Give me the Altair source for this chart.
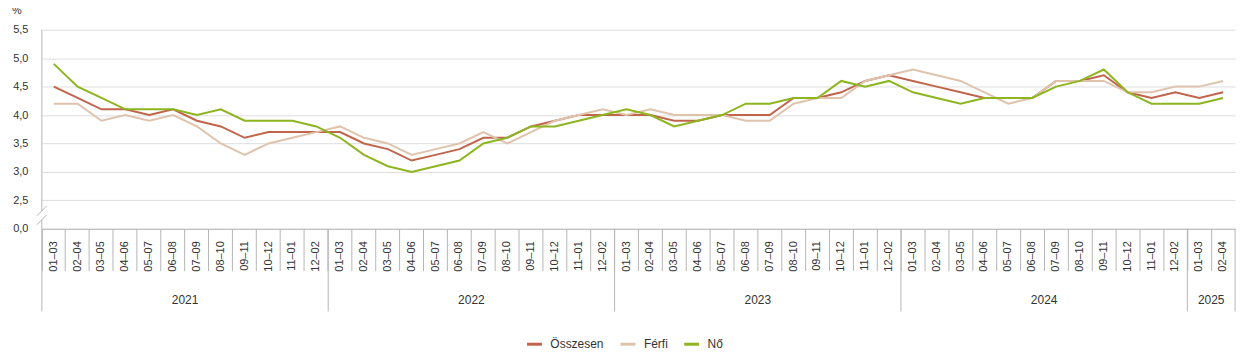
import altair as alt
import pandas as pd

# ---- data -------------------------------------------------------------
periods = ["01–03", "02–04", "03–05", "04–06", "05–07", "06–08",
           "07–09", "08–10", "09–11", "10–12", "11–01", "12–02"]
years = ["2021", "2022", "2023", "2024", "2025"]
year_counts = [12, 12, 12, 12, 2]

osszesen = [4.5, 4.3, 4.1, 4.1, 4.0, 4.1, 3.9, 3.8, 3.6, 3.7, 3.7, 3.7,
            3.7, 3.5, 3.4, 3.2, 3.3, 3.4, 3.6, 3.6, 3.8, 3.9, 4.0, 4.0,
            4.0, 4.0, 3.9, 3.9, 4.0, 4.0, 4.0, 4.3, 4.3, 4.4, 4.6, 4.7,
            4.6, 4.5, 4.4, 4.3, 4.3, 4.3, 4.6, 4.6, 4.7, 4.4, 4.3, 4.4,
            4.3, 4.4]
ferfi = [4.2, 4.2, 3.9, 4.0, 3.9, 4.0, 3.8, 3.5, 3.3, 3.5, 3.6, 3.7,
         3.8, 3.6, 3.5, 3.3, 3.4, 3.5, 3.7, 3.5, 3.7, 3.9, 4.0, 4.1,
         4.0, 4.1, 4.0, 4.0, 4.0, 3.9, 3.9, 4.2, 4.3, 4.3, 4.6, 4.7,
         4.8, 4.7, 4.6, 4.4, 4.2, 4.3, 4.6, 4.6, 4.6, 4.4, 4.4, 4.5,
         4.5, 4.6]
no = [4.9, 4.5, 4.3, 4.1, 4.1, 4.1, 4.0, 4.1, 3.9, 3.9, 3.9, 3.8,
      3.6, 3.3, 3.1, 3.0, 3.1, 3.2, 3.5, 3.6, 3.8, 3.8, 3.9, 4.0,
      4.1, 4.0, 3.8, 3.9, 4.0, 4.2, 4.2, 4.3, 4.3, 4.6, 4.5, 4.6,
      4.4, 4.3, 4.2, 4.3, 4.3, 4.3, 4.5, 4.6, 4.8, 4.4, 4.2, 4.2,
      4.2, 4.3]

series_names = ["Összesen", "Férfi", "Nő"]
series_colors = ["#c0654b", "#dfc3ad", "#8db51f"]
unit_label = "%"

# ---- tables -----------------------------------------------------------
keys = []
for y, n in zip(years, year_counts):
    for p in periods[:n]:
        keys.append(f"{y} {p}")

rows = []
for name, vals in zip(series_names, [osszesen, ferfi, no]):
    for k, v in zip(keys, vals):
        rows.append({"key": k, "value": v, "series": name})
df = pd.DataFrame(rows)

# year boundaries and year label anchors
starts, mids = [], []
i = 0
for y, n in zip(years, year_counts):
    starts.append(keys[i])
    mids.append({"key": keys[i + n // 2], "year": y})
    i += n
df_starts = pd.DataFrame({"key": starts})
df_end = pd.DataFrame({"key": [keys[-1]]})
df_mids = pd.DataFrame(mids)
dummy = pd.DataFrame({"d": [0]})
df_unit = pd.DataFrame({"t": [unit_label]})

GRAY = "#b5b5b5"
TXT = "#333333"

xscale = alt.Scale(type="band", domain=keys, paddingInner=0, paddingOuter=0)
yscale = alt.Scale(domain=[2, 5.5], nice=False, zero=False)

x_axis = alt.Axis(title=None, bandPosition=0, labelAngle=-90,
                  labelPadding=-30, tickSize=42, tickColor=GRAY, domainColor=GRAY,
                  grid=False, labelFontSize=11, labelColor=TXT,
                  labelExpr="substring(datum.label, 5)", labelOverlap=False)
y_axis = alt.Axis(values=[2, 2.5, 3, 3.5, 4, 4.5, 5, 5.5],
                  labelExpr="datum.value == 2 ? '0,0' : replace(format(datum.value, '.1f'), '.', ',')",
                  domain=False, ticks=False, labelPadding=14, labelFontSize=11,
                  labelColor=TXT, gridColor="#dedede", title=None)

X = alt.X("key:N", scale=xscale, sort=keys, axis=x_axis)
Y = alt.Y("value:Q", scale=yscale, axis=y_axis)

lines = alt.Chart(df).mark_line(strokeWidth=2).encode(
    x=X, y=Y,
    color=alt.Color("series:N",
                    scale=alt.Scale(domain=series_names, range=series_colors),
                    legend=alt.Legend(orient="none", legendX=486, legendY=307,
                                      direction="horizontal", title=None,
                                      symbolType="stroke", symbolStrokeWidth=3,
                                      symbolSize=225, labelFontSize=12,
                                      labelColor=TXT, labelOffset=7,
                                      columnPadding=10)),
    detail="series:N",
)

bounds = alt.Chart(df_starts).mark_rule(color=GRAY, strokeWidth=1).encode(
    x=alt.X("key:N", scale=xscale, sort=keys, axis=x_axis, bandPosition=0),
    y=alt.value(200), y2=alt.value(283),
)
bound_end = alt.Chart(df_end).mark_rule(color=GRAY, strokeWidth=1).encode(
    x=alt.X("key:N", scale=xscale, sort=keys, axis=x_axis, bandPosition=1),
    y=alt.value(200), y2=alt.value(283),
)
year_text = alt.Chart(df_mids).mark_text(fontSize=12, color=TXT, baseline="middle").encode(
    x=alt.X("key:N", scale=xscale, sort=keys, axis=x_axis, bandPosition=0),
    y=alt.value(272),
    text="year:N",
)
unit_text = alt.Chart(df_unit).mark_text(fontSize=11, color=TXT, align="left",
                                         baseline="middle").encode(
    x=alt.value(-30), y=alt.value(-19), text="t:N")

# y-axis line with a break
yline1 = alt.Chart(dummy).mark_rule(color=GRAY).encode(
    x=alt.value(0), y=alt.value(0), y2=alt.value(182))
yline2 = alt.Chart(dummy).mark_rule(color=GRAY).encode(
    x=alt.value(0), y=alt.value(191), y2=alt.value(200))
slash1 = alt.Chart(dummy).mark_rule(color=GRAY).encode(
    x=alt.value(-5), x2=alt.value(5), y=alt.value(187), y2=alt.value(177))
slash2 = alt.Chart(dummy).mark_rule(color=GRAY).encode(
    x=alt.value(-5), x2=alt.value(5), y=alt.value(196), y2=alt.value(186))

chart = alt.layer(
    bounds, bound_end, year_text, unit_text, yline1, yline2, slash1, slash2, lines
).properties(
    width=1199, height=200, autosize="none",
    padding={"left": 34, "top": 21, "right": 12, "bottom": 126},
).configure(font="Liberation Sans").configure_view(strokeWidth=0)

chart.save("out.html", embed_options={"renderer": "svg", "actions": False})
